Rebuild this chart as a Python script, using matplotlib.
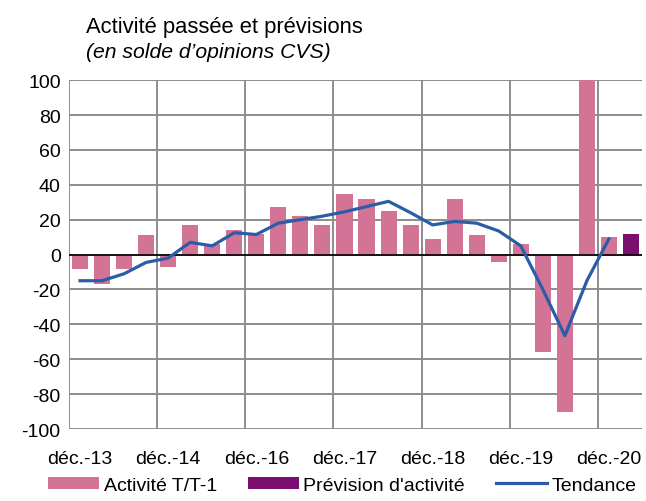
import matplotlib
matplotlib.use("Agg")
import matplotlib.pyplot as plt
import numpy as np

plt.rcParams["font.family"] = ["Liberation Sans", "DejaVu Sans"]
plt.rcParams["axes.unicode_minus"] = False

# quarterly balance of opinions (CVS)
activite = [-8, -17, -8, 11, -7, 17, 6, 14, 12, 27, 22, 17, 35, 32, 25, 17,
            9, 32, 11, -4, 6, -56, -90, 100, 10]
prevision = [12]
tendance = [-15, -15, -11, -4.5, -2, 7, 5, 12.5, 11.5, 18, 20, 22, 24.5, 27.5,
            30.5, 24, 17, 19, 18, 13.5, 5, -20, -46.5, -15, 9]
tick_labels = ["déc.-13", "déc.-14", "déc.-16", "déc.-17", "déc.-18",
               "déc.-19", "déc.-20"]
tick_every = 4

PINK = "#D37497"
PURPLE = "#7B0F6F"
BLUE = "#2A5DA8"
GRID = "#8C8C8C"

n_act = len(activite)
x_act = np.arange(n_act)
x_prev = np.arange(n_act, n_act + len(prevision))
n_cat = n_act + len(prevision)

fig = plt.figure(figsize=(6.46, 5.02), dpi=100)
ax = fig.add_axes([0.1068, 0.1434, 0.887, 0.695])

b1 = ax.bar(x_act, activite, width=0.73, color=PINK, zorder=2)
b2 = ax.bar(x_prev, prevision, width=0.73, color=PURPLE, zorder=2)
ln, = ax.plot(np.arange(len(tendance)), tendance, color=BLUE, lw=2.3, zorder=4)
ax.axhline(0, color="black", lw=1.2, zorder=3)

ax.set_xlim(-0.5, n_cat - 0.5)
ax.set_ylim(-100, 100)
ax.set_yticks(range(-100, 101, 20))
ax.set_xticks(np.arange(0, n_cat, tick_every)[:len(tick_labels)])
ax.set_xticklabels(tick_labels)
ax.tick_params(length=0, labelsize=14, pad=6)
ax.tick_params(axis="x", pad=15)

for y in range(-100, 101, 20):
    ax.axhline(y, color=GRID, lw=1.4, zorder=1)
for k in range(0, n_cat, tick_every):
    ax.axvline(k - 0.5, color=GRID, lw=1.4, zorder=1)
for s in ax.spines.values():
    s.set_visible(False)

fig.text(0.133, 0.935, "Activité passée et prévisions", fontsize=15.8)
fig.text(0.133, 0.884, "(en solde d\u2019opinions CVS)", fontsize=15.2,
         style="italic")

fig.legend([b1, b2, ln], ["Activité T/T-1", "Prévision d'activité", "Tendance"],
           loc="lower center", bbox_to_anchor=(0.53, -0.02), ncol=3,
           frameon=False, fontsize=14, handlelength=2.6, handleheight=0.55,
           columnspacing=1.6, handletextpad=0.25)

fig.savefig("out.png", dpi=100)
